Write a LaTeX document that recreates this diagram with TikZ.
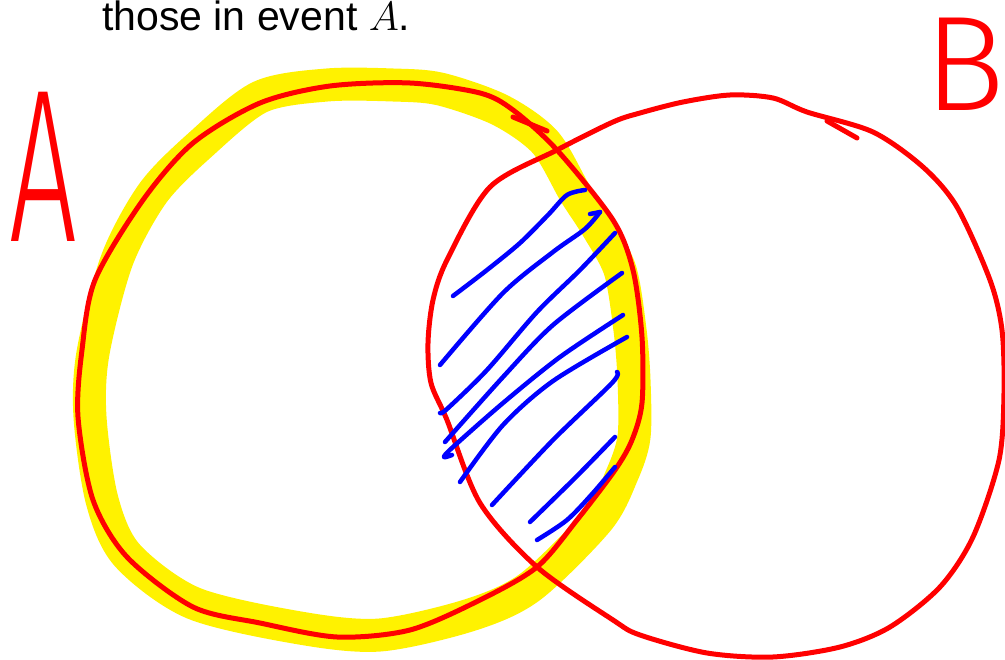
\RequirePackage{fix-cm}
\documentclass[tikz,border=0pt]{standalone}
\usepackage{fontspec}
\setmainfont{Liberation Sans}
\newfontfamily\handfont{Fira Sans Light}
\usepackage{graphicx}
\usetikzlibrary{positioning}

\tikzset{
  setline/.style={red, line width=5pt, line cap=round, line join=round},
  marker/.style={yellow, line width=33pt, line join=round},
  hatch/.style={blue, line width=4.5pt, line cap=round, line join=round},
  handletter/.style={red, inner sep=0pt}
}

\begin{document}
\begin{tikzpicture}[x=1pt, y=-1pt]
  \useasboundingbox (0,0) rectangle (1005,660);
  \clip (0,0) rectangle (1005,660);

  % Caption
  \node[anchor=base west, inner sep=0pt, font=\fontsize{41}{49}\selectfont] (caption) at (102,31) {those in event $A$.};

  % Highlighter band round A
  \draw[marker] plot[smooth cycle, tension=0.5] coordinates {
    (327,85) (393,85) (440,89) (500,110) (545,142) (575,193) (597,227)
    (620,270) (630,330) (634,380) (634,437) (622,475) (598,520) (530,587)
    (470,615) (380,635) (300,628) (193,603) (127,555) (102,500) (90,417)
    (93,353) (117,260) (153,193) (200,145) (260,97)};

  % Event A
  \draw[setline] plot[smooth cycle, tension=0.5] coordinates {
    (330,86) (410,83) (480,93) (513,110) (557,150) (613,220) (633,270)
    (642,337) (642,403) (632,440) (615,470) (577,520) (537,567) (480,600)
    (410,630) (337,637) (260,623) (193,607) (127,557) (93,500) (78,417)
    (82,350) (95,280) (143,200) (193,143) (260,103)};
  \draw[setline] (513,117) -- (547,131);

  % Event B
  \draw[setline] plot[smooth cycle, tension=0.5] coordinates {
    (428,343) (433,300) (447,260) (490,187) (557,150) (613,122) (640,113)
    (683,102) (730,95) (773,98) (807,112) (873,132) (923,167) (957,207)
    (990,280) (1002,330) (1004,393) (999,460) (973,537) (940,587) (890,627)
    (840,647) (773,657) (707,653) (640,635) (613,620) (537,567) (480,503)
    (447,420) (431,383)};
  \draw[setline] (827,121) -- (857,138);

  % Hatching of A and B
  \draw[hatch] plot[smooth] coordinates {(453,296) (487,270) (520,243) (548,215) (567,195) (585,190)};
  \draw[hatch] plot[smooth] coordinates {(440,365) (503,293) (553,252) (585,229) (600,212)};
  \draw[hatch] (600,212) -- (590,214);
  \draw[hatch] plot[smooth] coordinates {(440,413) (447,409) (487,370) (537,312) (580,270) (615,233)};
  \draw[hatch] plot[smooth] coordinates {(445,442) (503,377) (553,325) (622,273)};
  \draw[hatch] plot[smooth] coordinates {(623,315) (560,357) (503,403) (453,447) (444,457) (452,455)};
  \draw[hatch] plot[smooth] coordinates {(460,482) (503,425) (553,381) (627,337)};
  \draw[hatch] plot[smooth] coordinates {(492,505) (553,440) (612,383) (617,372)};
  \draw[hatch] plot[smooth] coordinates {(530,522) (575,478) (615,437)};
  \draw[hatch] plot[smooth] coordinates {(537,540) (567,520) (593,493) (615,467)};

  % Set names
  \node[handletter, font=\handfont\fontsize{218}{218}\selectfont] (nameA) at (43,167) {\scalebox{0.55}[1]{A}};
  \node[handletter, anchor=east, font=\handfont\fontsize{135}{135}\selectfont] (nameB) at (1005,64) {B};
\end{tikzpicture}
\end{document}
